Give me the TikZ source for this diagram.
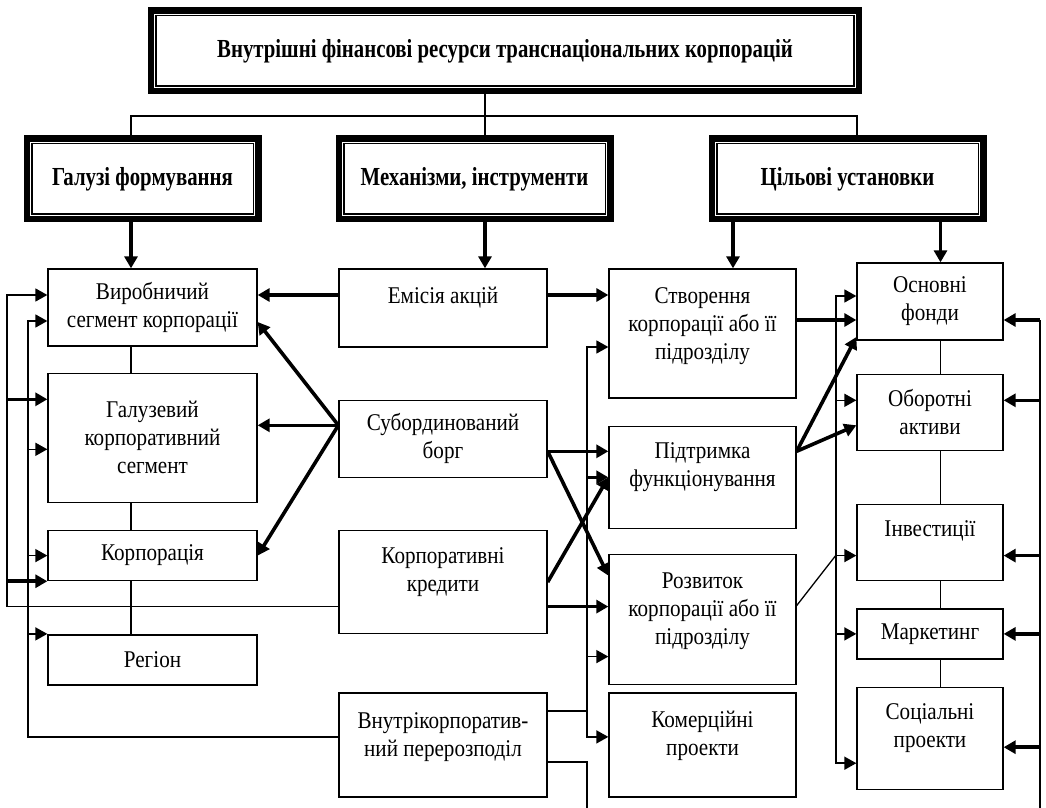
\documentclass[tikz,border=0pt]{standalone}
\usepackage{fontspec}
\setmainfont{Liberation Serif}[FakeStretch=0.88]
\newfontfamily\headfont{Liberation Serif}[FakeStretch=0.8]
\usepackage{tikz}
\usetikzlibrary{arrows.meta, positioning}
\tikzset{
    topbox/.style={rectangle, draw=black, line width=4.5pt, align=center, font=\headfont\bfseries\fontsize{13}{15}\selectfont},
    gap/.style={draw=white, line width=0.6pt},
    box/.style={rectangle, draw=black, line width=0.65pt, align=center, inner sep=1pt, font=\fontsize{12}{14}\selectfont},
    colA/.style={box, minimum width=104.5pt},
    colB/.style={box, minimum width=104pt},
    colC/.style={box, minimum width=93.5pt},
    colD/.style={box, minimum width=73pt},
    line/.style={line width=0.65pt},
    tarrow/.style={line width=0.8pt, ->},
    barrow/.style={line width=1.8pt, ->}
}

\begin{document}
\begin{tikzpicture}[x=0.5pt, y=-0.5pt, >={Triangle[length=6pt, width=6.5pt]}]
    \useasboundingbox (0,0) rectangle (1046,808);
    \coordinate (lspine) at (131,0);
    \coordinate (mspine) at (485,0);
    \coordinate (cspine) at (733,0);
    \coordinate (rspine) at (940.5,0);
    \coordinate (hdrop) at (857,0);
    \coordinate (hbar) at (500,116);
    \coordinate (railA) at (7,295);
    \coordinate (railB) at (28,321);
    \coordinate (railC) at (587,347);
    \coordinate (railD) at (836,296);
    \coordinate (railE) at (1040,320);
    \coordinate (botC) at (587,808);
    \coordinate (botE) at (1040,808);

    % headers
    \node (top) [topbox, minimum width=352.5pt, minimum height=39pt] at (505,51) {Внутрішні фінансові ресурси транснаціональних корпорацій};
    \node (galhd) [topbox, minimum width=114.5pt, minimum height=39pt] at (142.5,179) {Галузі формування};
    \node (mech) [topbox, minimum width=134.5pt, minimum height=39pt] at (474.5,179) {Механізми, інструменти};
    \node (cilhd) [topbox, minimum width=134.5pt, minimum height=39pt] at (847.5,179) {Цільові установки};
    \foreach \hd in {top, galhd, mech, cilhd}
        \draw [gap] ([shift={(3.4pt,-3.4pt)}]\hd.north west) rectangle ([shift={(-3.4pt,3.4pt)}]\hd.south east);

    % left column
    \node (vyrob) [colA, minimum height=38.5pt] at (152.5,307.5) {Виробничий\\сегмент корпорації};
    \node (galuz) [colA, minimum height=64.5pt, below=13pt of vyrob] {Галузевий\\корпоративний\\сегмент};
    \node (korp) [colA, minimum height=25pt, below=13.5pt of galuz] {Корпорація};
    \node (region) [colA, minimum height=25pt, below=26.5pt of korp] {Регіон};

    % mechanisms
    \node (emis) [colB, minimum height=39pt, text depth=13pt] at (443,308) {Емісія акцій};
    \node (subord) [colB, minimum height=38.5pt, below=26pt of emis] {Субординований\\борг};
    \node (kredyt) [colB, minimum height=51.5pt, text depth=12.6pt, below=26pt of subord] {Корпоративні\\кредити};
    \node (vnutr) [colB, minimum height=52pt, text depth=10.6pt, below=29pt of kredyt] {Внутрікорпоратив-\\ний перерозподіл};

    % purposes
    \node (stvor) [colC, minimum height=64.5pt, text depth=10pt] at (702.5,333.5) {Створення\\корпорації або її\\підрозділу};
    \node (pidtr) [colC, minimum height=51pt, text depth=12.6pt, below=13.5pt of stvor] {Підтримка\\функціонування};
    \node (rozv) [colC, minimum height=65pt, text depth=10.6pt, below=12.5pt of pidtr] {Розвиток\\корпорації або її\\підрозділу};
    \node (komer) [colC, minimum height=52pt, text depth=11.6pt, below=3.5pt of rozv] {Комерційні\\проекти};

    % objects
    \node (osn) [colD, minimum height=38.5pt] at (930,301.5) {Основні\\фонди};
    \node (obor) [colD, minimum height=38pt, below=16.5pt of osn] {Оборотні\\активи};
    \node (invest) [colD, minimum height=38pt, text depth=14.5pt, below=26.5pt of obor] {Інвестиції};
    \node (market) [colD, minimum height=25pt, below=13.5pt of invest] {Маркетинг};
    \node (social) [colD, minimum height=51pt, text depth=12.6pt, below=13.5pt of market] {Соціальні\\проекти};

    % tree on top
    \draw [line] (top.south -| mspine) -- (mech.north -| mspine);
    \draw [line] (galhd.north -| lspine) |- (hbar) -| (cilhd.north -| hdrop);
    \draw [barrow] (galhd.south -| lspine) -- (vyrob.north -| lspine);
    \draw [barrow] (mech.south -| mspine) -- (emis.north -| mspine);
    \draw [barrow] (cilhd.south -| cspine) -- (stvor.north -| cspine);
    \draw [barrow] (cilhd.south -| rspine) -- (osn.north -| rspine);

    % spines
    \draw [line] (vyrob.south -| lspine) -- (galuz.north -| lspine);
    \draw [line] (galuz.south -| lspine) -- (korp.north -| lspine);
    \draw [line] (korp.south -| lspine) -- (region.north -| lspine);
    \draw [line] (osn.south -| rspine) -- (obor.north -| rspine);
    \draw [line] (obor.south -| rspine) -- (invest.north -| rspine);
    \draw [line] (invest.south -| rspine) -- (market.north -| rspine);
    \draw [line] (market.south -| rspine) -- (social.north -| rspine);

    % mechanisms to the left
    \draw [barrow] ([yshift=6.5pt]emis.west) -- ([yshift=6.25pt]vyrob.east);
    \draw [barrow] ([yshift=6.75pt]subord.west) -- ([yshift=-7.25pt]vyrob.east);
    \draw [barrow] ([yshift=6.75pt]subord.west) -- ([yshift=6.25pt]galuz.east);
    \draw [barrow] ([yshift=6.75pt]subord.west) -- (korp.east);

    % mechanisms to the right
    \draw [barrow] ([yshift=6.5pt]emis.east) -- ([yshift=19.25pt]stvor.west);
    \draw [barrow] ([yshift=-6.25pt]subord.east) -- ([yshift=13pt]pidtr.west);
    \draw [barrow] ([yshift=-6.25pt]subord.east) -- ([yshift=22pt]rozv.west);
    \draw [barrow] (kredyt.east) -- (pidtr.west);
    \draw [barrow] ([yshift=-12.25pt]kredyt.east) -- ([yshift=6.5pt]rozv.west);

    % purposes to objects
    \draw [barrow] ([yshift=6.75pt]stvor.east) -- ([yshift=-9.25pt]osn.west);
    \draw [barrow] ([yshift=13pt]pidtr.east) -- ([yshift=-17.75pt]osn.west);
    \draw [barrow] ([yshift=13pt]pidtr.east) -- ([yshift=-6.5pt]obor.west);
    \draw [line] ([yshift=7pt]rozv.east) -- ++(39,-50);

    % left rails
    \draw [tarrow] ([yshift=-12.25pt]kredyt.west) -| (railA) -- (railA -| vyrob.west);
    \draw [barrow, <-] ([yshift=19.25pt]galuz.west) -- ++(-41,0);
    \draw [barrow] (railA |- korp.south west) -- (korp.south west);
    \draw [tarrow] ([yshift=4pt]vnutr.west) -| (railB) -- (railB -| vyrob.west);
    \draw [tarrow, <-] ([yshift=-5.75pt]galuz.west) -- ++(-20,0);
    \draw [tarrow] (railB |- korp.west) -- (korp.west);
    \draw [tarrow, <-] ([yshift=13pt]region.west) -- ++(-20,0);

    % middle rail
    \draw [tarrow] ([yshift=17pt]vnutr.east) -| (railC) -- (railC -| stvor.west);
    \draw [tarrow] (railC) |- ([yshift=4pt]komer.west);
    \draw [barrow] (railC |- pidtr.west) -- (pidtr.west);
    \draw [tarrow, <-] ([yshift=-18.5pt]rozv.west) -- ++(-22,0);
    \draw [line] ([yshift=-8.5pt]vnutr.east) -| (botC);

    % rails of the objects
    \draw [tarrow, <->] ([yshift=-12.5pt]social.west) -| (railD) -- (railD -| osn.west);
    \draw [tarrow, <-] ([yshift=6pt]obor.west) -- ++(-21,0);
    \draw [tarrow, <-] ([yshift=-6.5pt]invest.west) -- ++(-21,0);
    \draw [tarrow] (railD |- market.west) -- (market.west);
    \draw [line] (botE) -- (railE);
    \draw [barrow] (railE) -- (railE -| osn.east);
    \draw [barrow, <-] ([yshift=6pt]obor.east) -- ++(37,0);
    \draw [barrow, <-] ([yshift=-6.5pt]invest.east) -- ++(37,0);
    \draw [barrow, <-] (market.east) -- ++(37,0);
    \draw [barrow, <-] ([yshift=-4.5pt]social.east) -- ++(37,0);
\end{tikzpicture}
\end{document}
